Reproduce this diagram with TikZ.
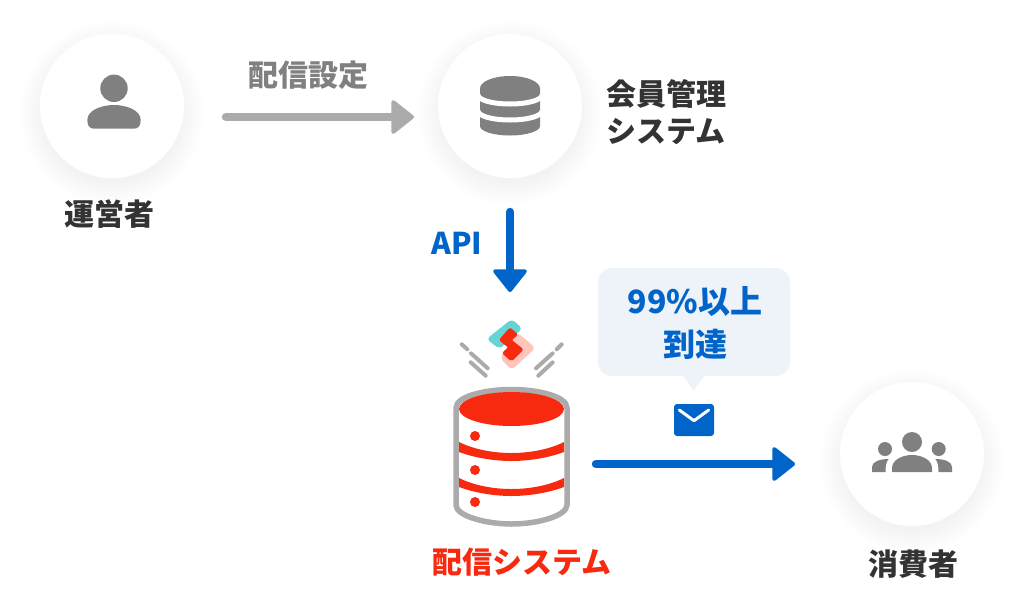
\documentclass[tikz,border=0pt]{standalone}
\usepackage{fontspec}
\setmainfont{Noto Sans CJK JP}
\usetikzlibrary{arrows.meta}
\definecolor{iconc}{HTML}{808080}
\definecolor{flowgray}{HTML}{ABABAB}
\definecolor{flowblue}{HTML}{0064C8}
\definecolor{sysred}{HTML}{F72A10}
\definecolor{bubblec}{HTML}{EEF3FA}
\definecolor{inkc}{HTML}{333333}
\definecolor{logoteal}{HTML}{68D3D3}
\definecolor{logopink}{HTML}{FFC4BA}
\tikzset{
	actor/.style={circle,fill=white,minimum size=144pt,inner sep=0pt,outer sep=0pt},
	lbl/.style={font=\bfseries\fontsize{30}{37}\selectfont,align=center,inner sep=0pt},
	ratelb/.style={font=\bfseries\fontsize{32}{43}\selectfont,align=center,inner sep=0pt},
	flow/.style={line width=8.5pt,line cap=round,-{Triangle[length=24pt,width=37pt,round,line width=4pt]}},
	stick/.style={flowgray,line width=4pt,line cap=round}
}
\begin{document}
\begin{tikzpicture}[x=1pt,y=-1pt,line join=round]
	\useasboundingbox (0,0) rectangle (1032,600);
	\path
	(112,106) coordinate (A)
	(510,106) coordinate (B)
	(912,454) coordinate (C)
	(511.5,409) coordinate (T)
	;
	% soft shadows under the circles
	\foreach \x in {A,B,C}\foreach \r in {70,72,...,92}\fill[black,opacity=.004] (\x)+(0,7) circle (\r);
	\node[actor] (admin) at (A) {};
	\node[actor] (dbase) at (B) {};
	\node[actor] (users) at (C) {};
	% person
	\fill[iconc] (114,88.3) circle (13.7);
	\fill[iconc] (87.3,120) .. controls (87.3,110) and (102,105) .. (114,105) .. controls (126,105) and (140.7,110) .. (140.7,120) .. controls (140.7,126) and (138,128.7) .. (134,128.7) -- (94,128.7) .. controls (90,128.7) and (87.3,126) .. (87.3,120) -- cycle;
	% database icon
	\fill[iconc] (480,88.5) -- (480,126) arc[start angle=180,end angle=0,x radius=30,y radius=9.5] -- (540,88.5) -- cycle;
	\draw[white,line width=5pt] (478,95) arc[start angle=180,end angle=0,x radius=32,y radius=9];
	\draw[white,line width=5pt] (478,111) arc[start angle=180,end angle=0,x radius=32,y radius=9];
	\fill[iconc] (510,88.5) ellipse [x radius=30,y radius=12.5];
	% group
	\fill[iconc] (912,442) circle (10) (885,449) circle (7) (938.7,449) circle (7);
	\fill[iconc] (892,472) -- (892,468) .. controls (892,460) and (902,455) .. (912,455) .. controls (922,455) and (932,460) .. (932,468) -- (932,472) -- cycle;
	\fill[iconc] (872,472) -- (872,467) .. controls (872,462) and (879,459) .. (888.7,459) .. controls (886,462) and (885.5,466) .. (885.5,472) -- cycle;
	\fill[iconc] (952,472) -- (952,467) .. controls (952,462) and (945,459) .. (935.3,459) .. controls (938,462) and (938.5,466) .. (938.5,472) -- cycle;
	% delivery system drum
	\draw[flowgray,line width=5.5pt] (456,408) .. controls (456,396) and (486,389.5) .. (511.5,389.5) .. controls (537,389.5) and (567,396) .. (567,408) -- (567,505) .. controls (567,516) and (537,524) .. (511.5,524) .. controls (486,524) and (456,516) .. (456,505) -- cycle;
	\fill[sysred] (T) ellipse [x radius=52.5,y radius=17];
	\fill[sysred] (459,442) .. controls (475,450) and (495,453) .. (511.5,453) .. controls (528,453) and (548,450) .. (564,442) -- (564,452) .. controls (548,458) and (528,461) .. (511.5,461) .. controls (495,461) and (475,458) .. (459,452) -- cycle;
	\fill[sysred] (459,478) .. controls (475,486) and (495,489) .. (511.5,489) .. controls (528,489) and (548,486) .. (564,478) -- (564,487) .. controls (548,493) and (528,496) .. (511.5,496) .. controls (495,496) and (475,493) .. (459,487) -- cycle;
	\foreach \y in {436,470,502}\fill[sysred] (475,\y) circle (5);
	% logo and sticks
	\fill[logoteal,rounded corners=4pt] (511.7,319) -- (522.5,328.5) -- (499.5,349) -- (486.5,339) -- cycle;
	\fill[logopink,rounded corners=4pt] (517,332) -- (535.5,348) -- (511.7,370) -- (500,358) -- cycle;
	\filldraw[sysred,line width=1pt,rounded corners=2pt] (510,328) -- (517.5,334.5) -- (511,340) -- (523,349.5) -- (511.5,361) -- (502.5,353) -- (509,347.5) -- (499.5,340) -- cycle;
	\draw[stick] (461.7,344.3)--(467.3,349.3) (471,353.3)--(487.7,368.3) (470.7,362.3)--(485.7,375.7);
	\draw[stick] (561.7,344.3)--(556.7,349.3) (552.7,353.3)--(536,368.3) (552.7,362.3)--(538.3,375.7);
	% bubble and mail
	\fill[bubblec,rounded corners=14pt] (598,268) rectangle (790,376);
	\fill[bubblec] (682.7,375) -- (705,375) -- (693.7,390.7) -- cycle;
	\fill[flowblue,rounded corners=3pt] (674,404) rectangle (714,436);
	\draw[white,line width=3pt,line cap=round] (679.3,410) -- (694,420.7) -- (708.7,410);
	% labels
	\node[lbl,inkc] (adminlbl) at (109.5,214) {運営者};
	\node[lbl,iconc] (setlbl) at (308,75) {配信設定};
	\node[lbl,inkc] (dbaselbl) at (666,112.5) {会員管理\\システム};
	\node[lbl,flowblue] (apilbl) at (457,243) {API};
	\node[ratelb,flowblue] (ratelbl) at (695,323.5) {99\%以上\\到達};
	\node[lbl,sysred] (syslbl) at (522,562) {配信システム};
	\node[lbl,inkc] (userslbl) at (913,564) {消費者};
	% connectors
	\node[inner sep=0pt,outer sep=0pt,minimum width=60pt,minimum height=106pt] (logo) at (510,345) {};
	\node[inner sep=0pt,outer sep=0pt,minimum width=116pt,minimum height=140pt] (drum) at (511.5,457) {};
	\draw[flow,flowgray,shorten <=42pt,shorten >=24pt] ([yshift=-11pt]admin.east) -- ([yshift=-11pt]dbase.west);
	\draw[flow,flowblue,shorten <=34pt] (dbase.south) -- (logo.north);
	\draw[flow,flowblue,shorten <=26.5pt,shorten >=45pt] (drum.east |- 0,464) -- (users.west |- 0,464);
\end{tikzpicture}
\end{document}
